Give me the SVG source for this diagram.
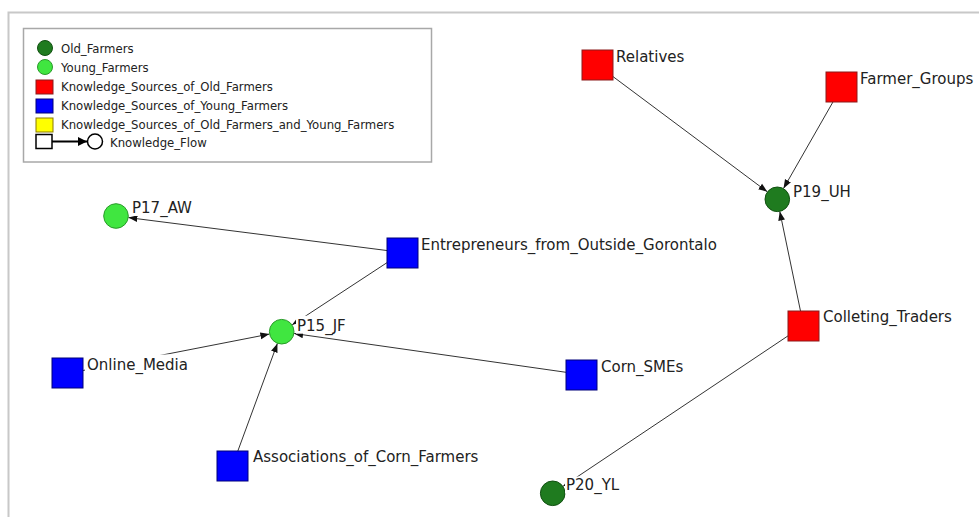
<svg xmlns="http://www.w3.org/2000/svg" width="979" height="517" viewBox="0 0 979 517">
<style>
.lbl{font-family:"DejaVu Sans","Liberation Sans",sans-serif;font-size:15px;fill:#222}
.lg{font-family:"DejaVu Sans","Liberation Sans",sans-serif;font-size:11.7px;fill:#222}
.edge{stroke:#333;stroke-width:1;fill:none;marker-end:url(#arr)}
.old{fill:#1f7b1f;stroke:#115011;stroke-width:1}
.young{fill:#40e640;stroke:#2a9a2a;stroke-width:1}
.red{fill:#ff0000;stroke:#8b1a1a;stroke-width:1}
.blue{fill:#0000ff;stroke:#00007a;stroke-width:1}
.bg{fill:#fff}
</style>
<defs>
<marker id="arr" markerUnits="userSpaceOnUse" markerWidth="10" markerHeight="8" refX="9" refY="4" orient="auto">
<path d="M0,0.6 L9,4 L0,7.4 Z" fill="#111"/>
</marker>
<marker id="arrL" markerUnits="userSpaceOnUse" markerWidth="10" markerHeight="10" refX="9" refY="5" orient="auto">
<path d="M0,0.5 L9,5 L0,9.5 Z" fill="#000"/>
</marker>
</defs>
<rect width="979" height="517" fill="#fff"/>
<path d="M8.5,517 V12.5 H979" fill="none" stroke="#c8c8c8" stroke-width="2"/>

<g id="legend">
<rect x="23.5" y="28.5" width="408" height="133.5" fill="#fff" stroke="#a8a8a8" stroke-width="1.5"/>
<circle cx="45" cy="48" r="7.5" class="old"/>
<text x="61" y="52.5" class="lg">Old_Farmers</text>
<circle cx="45" cy="67" r="7.5" class="young"/>
<text x="61" y="71.5" class="lg">Young_Farmers</text>
<rect x="36" y="80" width="17" height="14" class="red"/>
<text x="61" y="90.5" class="lg">Knowledge_Sources_of_Old_Farmers</text>
<rect x="36" y="99" width="17" height="14" class="blue"/>
<text x="61" y="109.5" class="lg">Knowledge_Sources_of_Young_Farmers</text>
<rect x="36" y="118" width="17" height="14" fill="#ffff00" stroke="#8a7a00" stroke-width="1"/>
<text x="61" y="128.5" class="lg">Knowledge_Sources_of_Old_Farmers_and_Young_Farmers</text>
<rect x="36" y="134.5" width="16" height="14" fill="#fff" stroke="#000" stroke-width="1.5"/>
<line x1="52" y1="141.5" x2="87" y2="141.5" stroke="#000" stroke-width="2" marker-end="url(#arrL)"/>
<circle cx="95" cy="141.5" r="7.5" fill="#fff" stroke="#000" stroke-width="1.5"/>
<text x="110" y="147" class="lg">Knowledge_Flow</text>
</g>

<g id="connectors">
<line class="edge" x1="597.5" y1="65" x2="767.3" y2="191.8"/>
<line class="edge" x1="841.5" y1="87" x2="783.5" y2="188.5"/>
<line class="edge" x1="803.5" y1="325.5" x2="779.8" y2="211.5"/>
<line class="edge" x1="803.5" y1="325.5" x2="563.1" y2="486.3"/>
<line class="edge" x1="402.5" y1="252.5" x2="128.4" y2="217.6"/>
<line class="edge" x1="402.5" y1="252.5" x2="292.2" y2="324.8"/>
<line class="edge" x1="67.5" y1="373.5" x2="269.4" y2="334.1"/>
<line class="edge" x1="581.5" y1="374.5" x2="294.1" y2="333.5"/>
<line class="edge" x1="232.5" y1="465.5" x2="277.4" y2="343.4"/>
</g>

<g id="Relatives">
<rect x="582" y="50" width="31" height="30" class="red"/>
<rect x="615" y="47" width="68" height="18" class="bg"/>
<text x="616" y="62" class="lbl">Relatives</text>
</g>
<g id="Farmer_Groups">
<rect x="826" y="72" width="31" height="30" class="red"/>
<rect x="859" y="69" width="118" height="18" class="bg"/>
<text x="860" y="84" class="lbl">Farmer_Groups</text>
</g>
<g id="P19_UH">
<circle cx="777.3" cy="199.3" r="12.3" class="old"/>
<rect x="792" y="182" width="64" height="18" class="bg"/>
<text x="793" y="197" class="lbl">P19_UH</text>
</g>
<g id="P17_AW">
<circle cx="116" cy="216" r="12.3" class="young"/>
<rect x="131" y="198.5" width="60" height="17.5" class="bg"/>
<text x="132" y="213.3" class="lbl">P17_AW</text>
</g>
<g id="Entrepreneurs_from_Outside_Gorontalo">
<rect x="387" y="238" width="31" height="30" class="blue"/>
<rect x="420" y="235" width="300" height="18" class="bg"/>
<text x="421" y="250" class="lbl">Entrepreneurs_from_Outside_Gorontalo</text>
</g>
<g id="P15_JF">
<circle cx="281.7" cy="331.7" r="12.3" class="young"/>
<rect x="296" y="315.7" width="56" height="18" class="bg"/>
<text x="297" y="330.7" class="lbl">P15_JF</text>
</g>
<g id="Online_Media">
<rect x="52" y="358" width="31" height="30" class="blue"/>
<rect x="85" y="354.5" width="103" height="20" class="bg"/>
<text x="87" y="370" class="lbl">Online_Media</text>
</g>
<g id="Corn_SMEs">
<rect x="566" y="360" width="31" height="30" class="blue"/>
<rect x="600" y="357" width="88" height="18" class="bg"/>
<text x="601" y="372" class="lbl">Corn_SMEs</text>
</g>
<g id="Associations_of_Corn_Farmers">
<rect x="217" y="451" width="31" height="30" class="blue"/>
<rect x="252" y="447" width="232" height="18" class="bg"/>
<text x="253" y="462" class="lbl">Associations_of_Corn_Farmers</text>
</g>
<g id="Colleting_Traders">
<rect x="788" y="311" width="31" height="30" class="red"/>
<rect x="822" y="307" width="138" height="18" class="bg"/>
<text x="823" y="322" class="lbl">Colleting_Traders</text>
</g>
<g id="P20_YL">
<circle cx="552.7" cy="493.3" r="12.3" class="old"/>
<rect x="565" y="476.5" width="64" height="17" class="bg"/>
<text x="566" y="490" class="lbl">P20_YL</text>
</g>
</svg>
